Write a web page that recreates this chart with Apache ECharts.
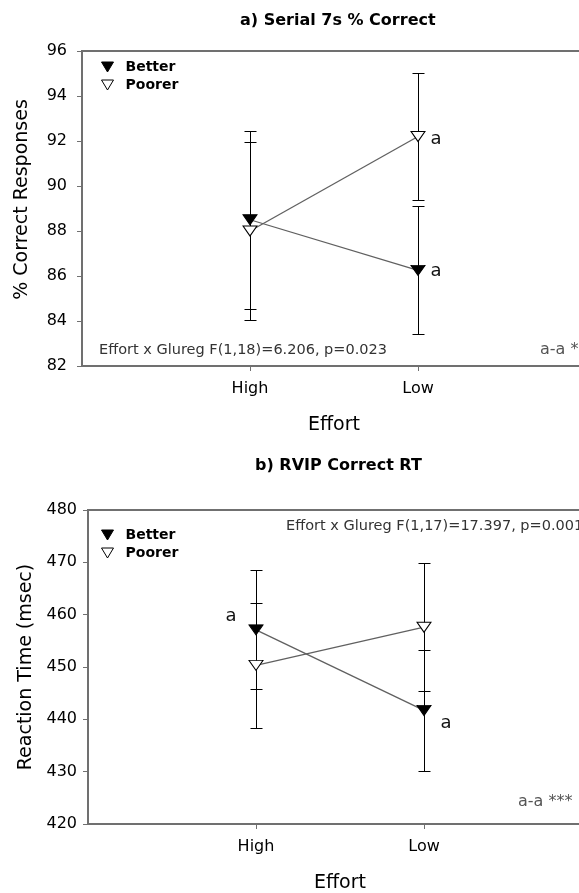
<!DOCTYPE html>
<html><head><meta charset="utf-8">
<script src="https://cdn.jsdelivr.net/npm/echarts@6/dist/echarts.min.js"></script>
<style>html,body{margin:0;padding:0;background:#fff}#c{width:579px;height:893px}</style>
</head><body><div id="c"></div>
<script>
// ---------- data ----------
const effortLevels = ['High', 'Low'];
const effortX = [1, 2];

// panel a: Serial 7s % Correct
const serialTitle = 'a) Serial 7s % Correct';
const serialYName = '% Correct Responses';
const serialYTicks = [82, 84, 86, 88, 90, 92, 94, 96];
const serialBetterMean = [88.5, 86.25];
const serialBetterSE = [3.96, 2.85];
const serialPoorerMean = [88.0, 92.2];
const serialPoorerSE = [3.95, 2.84];
const serialBetterMarks = ['', 'a'];
const serialPoorerMarks = ['', 'a'];
const serialStat = 'Effort x Glureg F(1,18)=6.206, p=0.023';
const serialSig = 'a-a *';

// panel b: RVIP Correct RT
const rvipTitle = 'b) RVIP Correct RT';
const rvipYName = 'Reaction Time (msec)';
const rvipYTicks = [420, 430, 440, 450, 460, 470, 480];
const rvipBetterMean = [457.1, 441.7];
const rvipBetterSE = [11.35, 11.6];
const rvipPoorerMean = [450.3, 457.6];
const rvipPoorerSE = [11.9, 12.25];
const rvipBetterMarks = ['a', 'a'];
const rvipPoorerMarks = ['', ''];
const rvipStat = 'Effort x Glureg F(1,17)=17.397, p=0.001';
const rvipSig = 'a-a ***';

const xName = 'Effort';
const groupNames = ['Better', 'Poorer'];

// ---------- styles ----------
const FONT = 'DejaVu Sans';
const AXIS_COLOR = '#707070';
const triDown = 'path://M0,0L12,0L6,10Z';

function errData(means, se) {
  return effortX.map((x, i) => [x, means[i] - se[i], means[i] + se[i]]);
}
function errRender(params, api) {
  const x = api.value(0);
  const pLo = api.coord([x, api.value(1)]);
  const pHi = api.coord([x, api.value(2)]);
  const cx = Math.round(pLo[0]) + 0.5;
  const yl = Math.round(pLo[1]) + 0.5, yh = Math.round(pHi[1]) + 0.5;
  const cw = 6;
  const style = { stroke: '#000', lineWidth: 1 };
  return { type: 'group', children: [
    { type: 'line', shape: { x1: cx, y1: yl, x2: cx, y2: yh }, style },
    { type: 'line', shape: { x1: cx - cw, y1: yl, x2: cx + cw, y2: yl }, style },
    { type: 'line', shape: { x1: cx - cw, y1: yh, x2: cx + cw, y2: yh }, style }
  ]};
}
function pointData(means, marks, labelCfg) {
  return effortX.map((x, i) => {
    const item = { value: [x, means[i]] };
    if (marks[i]) {
      item.label = Object.assign({ show: true, formatter: marks[i], fontFamily: FONT, fontSize: 18, color: '#111' }, labelCfg[i]);
    }
    return item;
  });
}
function lineSeries(name, idx, means, marks, labelCfg, filled) {
  return {
    type: 'line', name, xAxisIndex: idx, yAxisIndex: idx, z: 3,
    data: pointData(means, marks, labelCfg),
    symbol: 'triangle', symbolRotate: 180, symbolSize: [14, 10],
    itemStyle: filled ? { color: '#000', borderColor: '#000', borderWidth: 1 } : { color: '#fff', borderColor: '#000', borderWidth: 1 },
    lineStyle: { color: '#606060', width: 1.3 },
    emphasis: { disabled: true }
  };
}
function errSeries(name, idx, means, se) {
  return {
    type: 'custom', name, xAxisIndex: idx, yAxisIndex: idx, z: 2,
    data: errData(means, se), renderItem: errRender,
    encode: { x: 0, y: [1, 2] }, silent: true
  };
}
function xAxis(idx) {
  return {
    type: 'value', gridIndex: idx, min: 0, max: 3, interval: 1,
    name: xName, nameLocation: 'middle', nameGap: 50,
    nameTextStyle: { fontFamily: FONT, fontSize: 19, color: '#000' },
    axisLine: { lineStyle: { color: AXIS_COLOR, width: 2 } },
    axisTick: { customValues: effortX, length: 5, lineStyle: { color: AXIS_COLOR, width: 1 } },
    axisLabel: { customValues: effortX, margin: 15, fontFamily: FONT, fontSize: 16, color: '#000',
      formatter: v => { const k = effortX.indexOf(v); return k >= 0 ? effortLevels[k] : ''; } },
    splitLine: { show: false }
  };
}
function yAxis(idx, ticks, name, nameGap, labelMargin, namePad) {
  return {
    type: 'value', gridIndex: idx, min: ticks[0], max: ticks[ticks.length - 1],
    interval: ticks[1] - ticks[0],
    name, nameLocation: 'middle', nameGap,
    nameTextStyle: { fontFamily: FONT, fontSize: 19, color: '#000', padding: namePad },
    axisLine: { show: true, lineStyle: { color: AXIS_COLOR, width: 2 } },
    axisTick: { show: true, length: 5, lineStyle: { color: AXIS_COLOR, width: 1 } },
    axisLabel: { margin: labelMargin, fontFamily: FONT, fontSize: 16, color: '#000' },
    splitLine: { show: false }
  };
}
function legend(top) {
  return {
    orient: 'vertical', left: 101, top, padding: 0, itemGap: 4,
    itemWidth: 12, itemHeight: 10, selectedMode: false,
    textStyle: { fontFamily: FONT, fontWeight: 'bold', fontSize: 14, color: '#000', padding: [0, 0, 0, 7] },
    data: [
      { name: groupNames[0], icon: triDown, itemStyle: { color: '#000', borderColor: '#000', borderWidth: 1 } },
      { name: groupNames[1], icon: triDown, itemStyle: { color: '#fff', borderColor: '#000', borderWidth: 1 } }
    ]
  };
}

const labelA = { better: [{}, { position: 'right', distance: 5, offset: [0, 1] }],
                 poorer: [{}, { position: 'right', distance: 5, offset: [0, 3] }] };
const labelB = { better: [{ position: 'left', distance: 12, offset: [0, -14] }, { position: 'right', distance: 9, offset: [0, 13] }],
                 poorer: [{}, {}] };

const chart = echarts.init(document.getElementById('c'), null, { renderer: 'canvas' });
chart.setOption({
  animation: false,
  backgroundColor: '#fff',
  title: [
    { text: serialTitle, left: 240, top: 13, padding: 0, textStyle: { fontFamily: FONT, fontWeight: 'bold', fontSize: 16, color: '#000' } },
    { text: rvipTitle, left: 255, top: 458, padding: 0, textStyle: { fontFamily: FONT, fontWeight: 'bold', fontSize: 16, color: '#000' } }
  ],
  legend: [legend(60), legend(528)],
  grid: [
    { left: 82, top: 51, right: -7, bottom: 527, show: true, borderColor: AXIS_COLOR, borderWidth: 2, outerBoundsMode: 'none', containLabel: false },
    { left: 88, top: 510, right: -13, bottom: 69, show: true, borderColor: AXIS_COLOR, borderWidth: 2, outerBoundsMode: 'none', containLabel: false }
  ],
  xAxis: [xAxis(0), xAxis(1)],
  yAxis: [
    yAxis(0, serialYTicks, serialYName, 50, 15, [0, 0, 0, 18]),
    yAxis(1, rvipYTicks, rvipYName, 52, 11, 0)
  ],
  graphic: [
    { type: 'text', x: 99, y: 350, style: { text: serialStat, font: '14.5px "DejaVu Sans"', fill: '#333', verticalAlign: 'middle' } },
    { type: 'text', x: 540, y: 350, style: { text: serialSig, font: '16px "DejaVu Sans"', fill: '#555', verticalAlign: 'middle' } },
    { type: 'text', x: 286, y: 526, style: { text: rvipStat, font: '14.5px "DejaVu Sans"', fill: '#333', verticalAlign: 'middle' } },
    { type: 'text', x: 518, y: 802, style: { text: rvipSig, font: '16px "DejaVu Sans"', fill: '#555', verticalAlign: 'middle' } }
  ],
  series: [
    errSeries('Better SE a', 0, serialBetterMean, serialBetterSE),
    errSeries('Poorer SE a', 0, serialPoorerMean, serialPoorerSE),
    lineSeries(groupNames[0], 0, serialBetterMean, serialBetterMarks, labelA.better, true),
    lineSeries(groupNames[1], 0, serialPoorerMean, serialPoorerMarks, labelA.poorer, false),
    errSeries('Better SE b', 1, rvipBetterMean, rvipBetterSE),
    errSeries('Poorer SE b', 1, rvipPoorerMean, rvipPoorerSE),
    lineSeries(groupNames[0], 1, rvipBetterMean, rvipBetterMarks, labelB.better, true),
    lineSeries(groupNames[1], 1, rvipPoorerMean, rvipPoorerMarks, labelB.poorer, false)
  ]
});
</script></body></html>
